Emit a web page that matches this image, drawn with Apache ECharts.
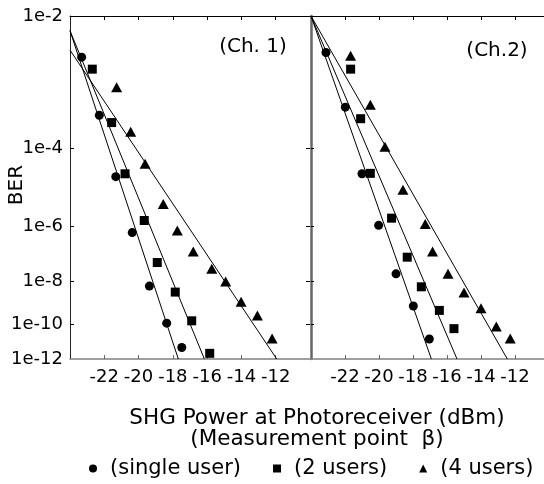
<!DOCTYPE html>
<html>
<head>
<meta charset="utf-8">
<script src="https://cdn.jsdelivr.net/npm/echarts@6/dist/echarts.min.js"></script>
<style>
html, body { margin: 0; padding: 0; background: #fff; }
#main { width: 544px; height: 484px; }
</style>
</head>
<body>
<div id="main"></div>
<script>
// tick labels
var powerTicks = [-22, -20, -18, -16, -14, -12]
var berExps = [2, 4, 6, 8, 10, 12]          // 1e-2 ... 1e-12

// measured points: [power dBm, n] with BER = 1e-n
var ch1Single = [[-23.32, 2.48], [-22.29, 3.36], [-21.33, 4.63], [-20.37, 6.2], [-19.37, 8.2], [-18.36, 9.95], [-17.48, 11.3]]
var ch1Two = [[-22.7, 2.64], [-21.57, 3.49], [-20.79, 4.56], [-19.67, 5.82], [-18.91, 7.25], [-17.86, 8.46], [-16.9, 9.83], [-15.85, 11.65]]
var ch1Four = [[-21.28, 2.9], [-20.46, 3.66], [-19.62, 4.33], [-18.56, 5.34], [-17.74, 6.13], [-16.81, 6.84], [-15.73, 7.49], [-14.92, 8.0], [-14.02, 8.9], [-13.07, 9.56], [-12.21, 10.78]]

var ch2Single = [[-23.12, 2.42], [-21.98, 3.22], [-21.0, 4.56], [-20.02, 5.97], [-19.0, 7.69], [-17.98, 9.1], [-17.04, 10.81]]
var ch2Two = [[-21.67, 2.64], [-21.08, 3.42], [-20.51, 4.55], [-19.26, 5.75], [-18.34, 7.05], [-17.51, 8.23], [-16.45, 9.31], [-15.59, 10.24]]
var ch2Four = [[-21.67, 2.46], [-20.51, 3.18], [-19.65, 3.96], [-18.59, 4.96], [-17.28, 5.93], [-16.85, 6.84], [-15.94, 7.69], [-15.0, 8.48], [-14.0, 9.21], [-13.1, 10.12], [-12.28, 10.78]]

// fitted lines (end points)
var ch1SingleFit = [[-24, 2.16], [-17.68, 12]]
var ch1TwoFit = [[-24, 2.16], [-16.16, 12]]
var ch1FourFit = [[-24, 2.39], [-11.94, 12]]
var ch2SingleFit = [[-24, 2], [-16.92, 12]]
var ch2TwoFit = [[-24, 2], [-15.41, 12]]
var ch2FourFit = [[-24, 2], [-12.45, 12]]

var FONT = 'DejaVu Sans'

// BER axis is drawn as log(-log BER)
var q = function(n) {
    return Math.log10(n)
}
var toAxis = function(list) {
    return list.map(function(p) { return [p[0], q(p[1])] })
}

var xAxisFor = function(gridIndex, position) {
    var bottom = position === 'bottom'
    return {
        type: 'value',
        gridIndex: gridIndex,
        position: position,
        min: -24,
        max: -10,
        axisLine: { show: true, lineStyle: { color: bottom ? '#808080' : '#000', width: bottom ? 1.5 : 1 } },
        axisTick: { show: true, inside: true, length: 4, customValues: powerTicks, lineStyle: { color: bottom ? '#666' : '#000' } },
        axisLabel: {
            show: bottom,
            customValues: powerTicks,
            margin: 9,
            color: '#000',
            fontSize: 18,
            fontFamily: FONT,
        },
        splitLine: { show: false },
    }
}

var yAxisFor = function(gridIndex, position, opts) {
    return {
        type: 'value',
        gridIndex: gridIndex,
        position: position,
        inverse: true,
        min: q(2),
        max: q(12),
        axisLine: { show: opts.line, lineStyle: { color: opts.color, width: opts.width } },
        axisTick: { show: true, inside: true, length: opts.tick, customValues: [4, 6, 8, 10].map(q), lineStyle: { color: '#000' } },
        axisLabel: {
            show: opts.labels,
            customValues: berExps.map(q),
            formatter: function(v) { return '1e-' + Math.round(Math.pow(10, v)) },
            margin: 7,
            color: '#000',
            fontSize: 18,
            fontFamily: FONT,
        },
        splitLine: { show: false },
    }
}

var scatter = function(name, symbol, size, data, idx) {
    return {
        name: name,
        type: 'scatter',
        symbol: symbol,
        symbolSize: size,
        xAxisIndex: idx * 2,
        yAxisIndex: idx * 2,
        itemStyle: { color: '#000', opacity: 1 },
        data: toAxis(data),
        z: 3,
    }
}

var fit = function(data, idx) {
    return {
        name: 'fit',
        type: 'line',
        xAxisIndex: idx * 2,
        yAxisIndex: idx * 2,
        symbol: 'none',
        lineStyle: { color: '#000', width: 1 },
        data: toAxis(data),
        silent: true,
        z: 2,
    }
}

var myChart = echarts.init(document.querySelector('#main'), null, { renderer: 'canvas' })

var option = {
    animation: false,
    backgroundColor: '#fff',
    grid: [
        { left: 70, top: 16, width: 240, height: 343, containLabel: false, outerBoundsMode: 'none' },
        { left: 311, top: 16, width: 238, height: 343, containLabel: false, outerBoundsMode: 'none' },
    ],
    xAxis: [
        xAxisFor(0, 'bottom'),
        xAxisFor(0, 'top'),
        xAxisFor(1, 'bottom'),
        xAxisFor(1, 'top'),
    ],
    yAxis: [
        yAxisFor(0, 'left', { line: true, color: '#222', width: 1, tick: 4, labels: true }),
        yAxisFor(0, 'right', { line: false, color: '#000', width: 1, tick: 4, labels: false }),
        yAxisFor(1, 'left', { line: true, color: '#666', width: 2.5, tick: 3, labels: false }),
        yAxisFor(1, 'right', { line: false, color: '#000', width: 1, tick: 4, labels: false }),
    ],
    legend: {
        left: 84,
        top: 453,
        itemWidth: 8,
        itemHeight: 8,
        itemGap: 32,
        itemStyle: { color: '#000', opacity: 1 },
        textStyle: { color: '#000', fontSize: 21, fontFamily: FONT, padding: [0, 0, 0, 8] },
        data: [
            { name: '(single user)', icon: 'circle' },
            { name: '(2 users)', icon: 'rect' },
            { name: '(4 users)', icon: 'triangle' },
        ],
    },
    graphic: [
        { type: 'text', x: 17, y: 185, rotation: Math.PI / 2,
          style: { text: 'BER', font: '20px "DejaVu Sans"', fill: '#000', textAlign: 'center', textVerticalAlign: 'middle' } },
        { type: 'text', x: 253, y: 47,
          style: { text: '(Ch. 1)', font: '20px "DejaVu Sans"', fill: '#000', textAlign: 'center', textVerticalAlign: 'middle' } },
        { type: 'text', x: 497, y: 51,
          style: { text: '(Ch.2)', font: '20px "DejaVu Sans"', fill: '#000', textAlign: 'center', textVerticalAlign: 'middle' } },
        { type: 'text', x: 317, y: 418,
          style: { text: 'SHG Power at Photoreceiver (dBm)', font: '21.5px "DejaVu Sans"', fill: '#000', textAlign: 'center', textVerticalAlign: 'middle' } },
        { type: 'text', x: 317, y: 439,
          style: { text: '(Measurement point  \u03b2)', font: '21.5px "DejaVu Sans"', fill: '#000', textAlign: 'center', textVerticalAlign: 'middle' } },
    ],
    series: [
        fit(ch1SingleFit, 0),
        fit(ch1TwoFit, 0),
        fit(ch1FourFit, 0),
        scatter('(single user)', 'circle', 9, ch1Single, 0),
        scatter('(2 users)', 'rect', 9, ch1Two, 0),
        scatter('(4 users)', 'triangle', [11, 10], ch1Four, 0),
        fit(ch2SingleFit, 1),
        fit(ch2TwoFit, 1),
        fit(ch2FourFit, 1),
        scatter('(single user)', 'circle', 9, ch2Single, 1),
        scatter('(2 users)', 'rect', 9, ch2Two, 1),
        scatter('(4 users)', 'triangle', [11, 10], ch2Four, 1),
    ],
}

myChart.setOption(option)
</script>
</body>
</html>
